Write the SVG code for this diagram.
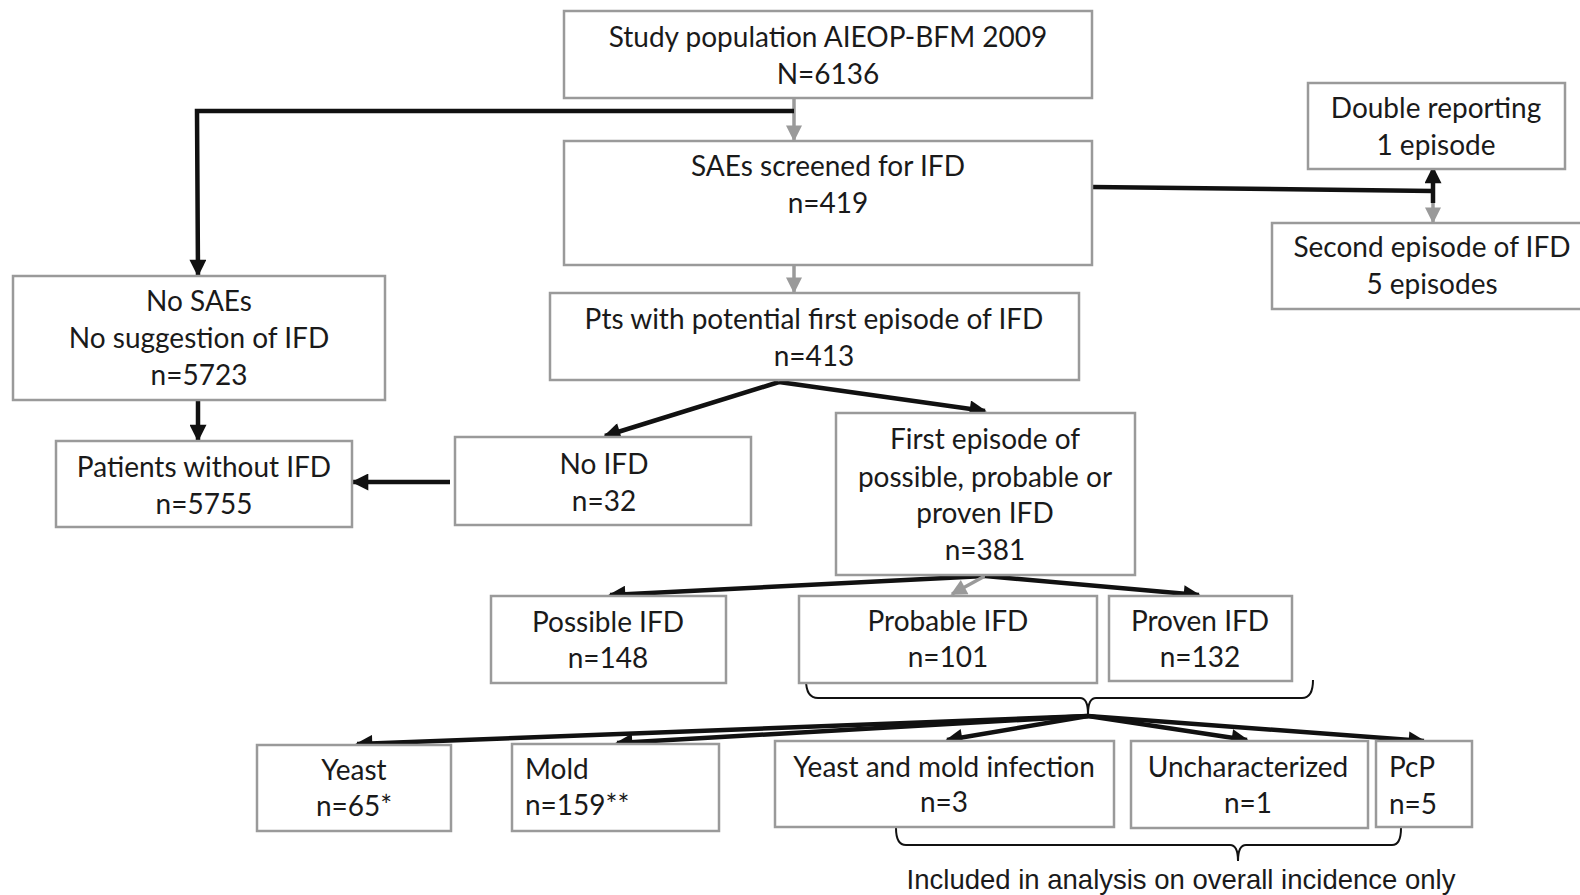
<svg xmlns="http://www.w3.org/2000/svg" width="1580" height="895" viewBox="0 0 1580 895">
<style>
.box{fill:#fff;stroke:#9a9a9a;stroke-width:2.5}
.t{font-family:Lato,"Open Sans","Liberation Sans",sans-serif;font-size:28px;fill:#1a1a1a;text-anchor:middle}
.l{text-anchor:start}
.blk{fill:none;stroke:#111;stroke-width:4.5}
.gry{fill:none;stroke:#9a9a9a;stroke-width:3.5}
.br{fill:none;stroke:#111;stroke-width:2}
.note{font-family:"Liberation Sans",Arial,sans-serif;font-size:27.5px;fill:#1a1a1a;text-anchor:middle}
</style>
<defs>
<marker id="ab" viewBox="0 0 10 10" refX="9" refY="5" markerWidth="18" markerHeight="17" markerUnits="userSpaceOnUse" orient="auto"><path d="M0,0 L10,5 L0,10 z" fill="#111"/></marker>
<marker id="ag" viewBox="0 0 10 10" refX="9" refY="5" markerWidth="17" markerHeight="16" markerUnits="userSpaceOnUse" orient="auto"><path d="M0,0 L10,5 L0,10 z" fill="#9a9a9a"/></marker>
</defs>
<rect width="1580" height="895" fill="#fff"/>

<g id="connectors">
<path class="gry" d="M794,98 L794,140" marker-end="url(#ag)"/>
<path class="gry" d="M794,265 L794,292" marker-end="url(#ag)"/>
<path class="blk" d="M794,111 L197,111 L198,275" marker-end="url(#ab)"/>
<path class="blk" d="M198,400 L198,440" marker-end="url(#ab)"/>
<path class="blk" d="M450,482 L353,482" marker-end="url(#ab)"/>
<path class="blk" d="M1092,187 L1433,191"/>
<path class="blk" d="M1433,203 L1433,168" marker-end="url(#ab)"/>
<path class="gry" d="M1433,203 L1433,222" marker-end="url(#ag)"/>
<path class="blk" d="M779,382 L605,436" marker-end="url(#ab)"/>
<path class="blk" d="M779,382 L985,411" marker-end="url(#ab)"/>
<path class="blk" d="M985,576 L610,595" marker-end="url(#ab)"/>
<path class="gry" d="M985,576 L952,594" marker-end="url(#ag)"/>
<path class="blk" d="M985,576 L1199,595" marker-end="url(#ab)"/>
<path class="br" d="M806,680 Q806,698 818,698 L1080,698 Q1088,698 1088,714 Q1088,698 1096,698 L1302,698 Q1313,698 1313,680"/>
<path class="blk" d="M1088,716 L357,744" marker-end="url(#ab)"/>
<path class="blk" d="M1088,716 L617,743" marker-end="url(#ab)"/>
<path class="blk" d="M1088,716 L947,740" marker-end="url(#ab)"/>
<path class="blk" d="M1088,716 L1247,740" marker-end="url(#ab)"/>
<path class="blk" d="M1088,716 L1424,741" marker-end="url(#ab)"/>
<path class="br" d="M896,828 Q896,845 906,845 L1230,845 Q1238,845 1238,861 Q1238,845 1246,845 L1392,845 Q1401,845 1401,828"/>
</g>

<g id="n_study"><rect class="box" x="564" y="11" width="528" height="87"/><text class="t" x="828" y="47">Study population AIEOP-BFM 2009</text><text class="t" x="828" y="84">N=6136</text></g>
<g id="n_sae"><rect class="box" x="564" y="141" width="528" height="124"/><text class="t" x="828" y="176">SAEs screened for IFD</text><text class="t" x="828" y="213">n=419</text></g>
<g id="n_pts"><rect class="box" x="550" y="293" width="529" height="87"/><text class="t" x="814" y="329">Pts with potential first episode of IFD</text><text class="t" x="814" y="366">n=413</text></g>
<g id="n_double"><rect class="box" x="1308" y="83" width="257" height="86"/><text class="t" x="1436" y="118">Double reporting</text><text class="t" x="1436" y="155">1 episode</text></g>
<g id="n_second"><rect class="box" x="1272" y="223" width="320" height="86"/><text class="t" x="1432" y="257">Second episode of IFD</text><text class="t" x="1432" y="294">5 episodes</text></g>
<g id="n_nosae"><rect class="box" x="13" y="276" width="372" height="124"/><text class="t" x="199" y="311">No SAEs</text><text class="t" x="199" y="348">No suggestion of IFD</text><text class="t" x="199" y="385">n=5723</text></g>
<g id="n_without"><rect class="box" x="56" y="441" width="296" height="86"/><text class="t" x="204" y="477">Patients without IFD</text><text class="t" x="204" y="514">n=5755</text></g>
<g id="n_noifd"><rect class="box" x="455" y="437" width="296" height="88"/><text class="t" x="604" y="474">No IFD</text><text class="t" x="604" y="511">n=32</text></g>
<g id="n_first"><rect class="box" x="836" y="413" width="299" height="162"/><text class="t" x="985" y="449">First episode of</text><text class="t" x="985" y="487">possible, probable or</text><text class="t" x="985" y="523">proven IFD</text><text class="t" x="985" y="560">n=381</text></g>
<g id="n_possible"><rect class="box" x="491" y="596" width="235" height="87"/><text class="t" x="608" y="632">Possible IFD</text><text class="t" x="608" y="668">n=148</text></g>
<g id="n_probable"><rect class="box" x="799" y="596" width="298" height="87"/><text class="t" x="948" y="631">Probable IFD</text><text class="t" x="948" y="667">n=101</text></g>
<g id="n_proven"><rect class="box" x="1109" y="596" width="183" height="85"/><text class="t" x="1200" y="631">Proven IFD</text><text class="t" x="1200" y="667">n=132</text></g>
<g id="n_yeast"><rect class="box" x="257" y="745" width="194" height="86"/><text class="t" x="354" y="780">Yeast</text><text class="t" x="354" y="816">n=65*</text></g>
<g id="n_mold"><rect class="box" x="512" y="744" width="207" height="87"/><text class="t l" x="525" y="779">Mold</text><text class="t l" x="525" y="815">n=159**</text></g>
<g id="n_yeastmold"><rect class="box" x="775" y="741" width="339" height="86"/><text class="t" x="944" y="777">Yeast and mold infection</text><text class="t" x="944" y="812">n=3</text></g>
<g id="n_unchar"><rect class="box" x="1131" y="741" width="237" height="87"/><text class="t" x="1248" y="777">Uncharacterized</text><text class="t" x="1248" y="813">n=1</text></g>
<g id="n_pcp"><rect class="box" x="1376" y="741" width="96" height="86"/><text class="t l" x="1389" y="777">PcP</text><text class="t l" x="1389" y="814">n=5</text></g>
<g id="n_note"><text class="note" x="1181" y="889">Included in analysis on overall incidence only</text></g>
</svg>
